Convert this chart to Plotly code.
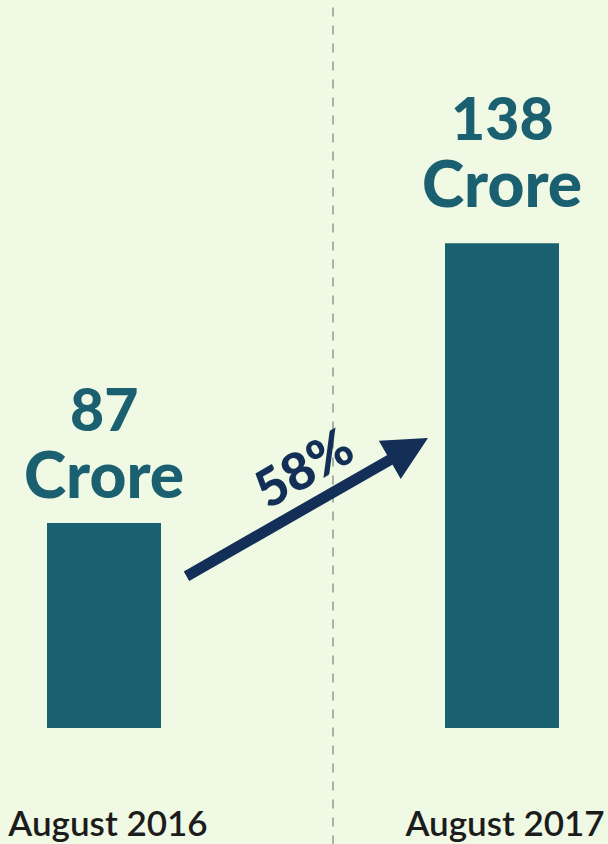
import plotly.graph_objects as go

categories = ["August 2016", "August 2017"]
values = [87, 138]
number_labels = ["87", "138"]
unit_label = "Crore"
growth_label = "58%"

BG = "#eff9e3"
BAR = "#1b6070"
NAVY = "#132f57"
BIG = "Lato Black, Lato"

fig = go.Figure()
fig.add_trace(go.Bar(
    x=[0, 1], y=values, width=0.2864, marker=dict(color=BAR, line=dict(width=0)),
    hoverinfo="skip", showlegend=False,
))

unit_shift = [9, 20]
for i, (v, t) in enumerate(zip(values, number_labels)):
    fig.add_annotation(x=i, y=v, text=unit_label, showarrow=False, yanchor="bottom",
                       yshift=unit_shift[i],
                       font=dict(family=BIG, size=64, color=BAR, weight=900))
    fig.add_annotation(x=i, y=v, text=t, showarrow=False, yanchor="bottom",
                       yshift=unit_shift[i] + 68,
                       font=dict(family=BIG, size=59, color=BAR, weight=900))

# growth arrow
fig.add_annotation(x=0.814, y=102.5, ax=0.2035, ay=77.16, axref="x", ayref="y",
                   xref="x", yref="y", text="", showarrow=True,
                   arrowhead=2, arrowsize=0.8, arrowwidth=11, arrowcolor=NAVY)
fig.add_annotation(x=0.498, y=97.3, text=growth_label, showarrow=False,
                   textangle=-30, font=dict(family=BIG, size=52, color=NAVY, weight=900))

# dashed divider
fig.add_shape(type="line", xref="paper", yref="paper", x0=0.5477, x1=0.5477,
              y0=-0.16, y1=1.0, line=dict(color="#a9b0a4", width=2, dash="dash"))

fig.update_layout(
    width=608, height=844,
    margin=dict(l=0, r=0, t=0, b=116, autoexpand=False),
    paper_bgcolor=BG, plot_bgcolor=BG,
    xaxis=dict(range=[-0.2613, 1.2663], tickvals=[0.01, 1.0075], ticktext=categories,
               showgrid=False, zeroline=False, showline=False, ticks="",
               automargin=False, ticklabelstandoff=72,
               tickfont=dict(family="Lato Semibold, Lato", size=35, color="#1c1c1c", weight=600)),
    yaxis=dict(range=[49.66, 182.3], visible=False, showgrid=False, zeroline=False,
               automargin=False),
)

fig.write_html("out.html")
